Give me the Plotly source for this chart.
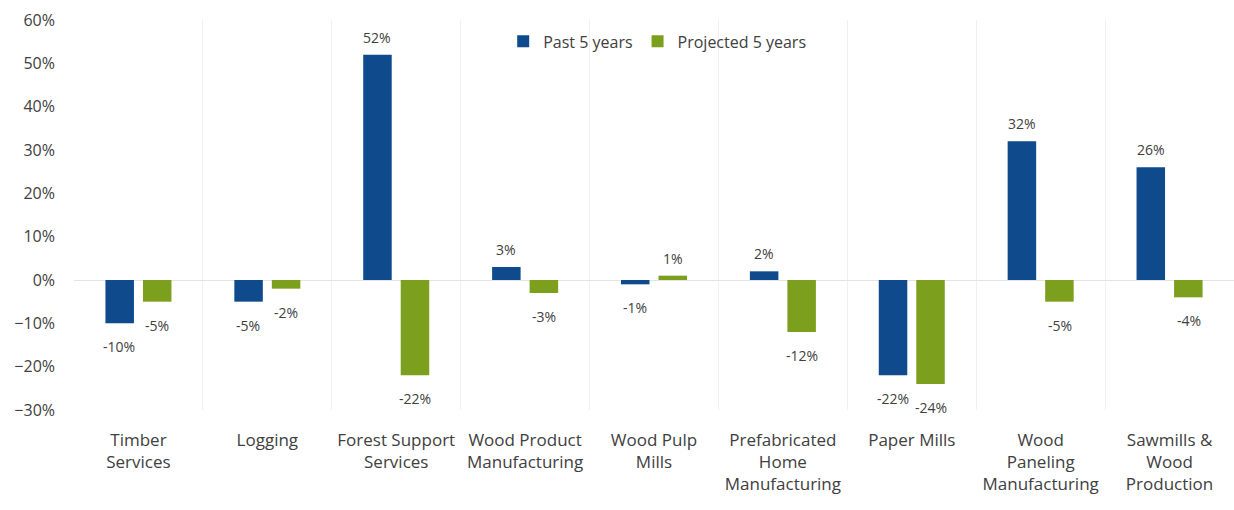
import plotly.graph_objects as go

# Industry categories (line breaks follow the printed axis labels)
categories = [
    "Timber<br>Services",
    "Logging",
    "Forest Support<br>Services",
    "Wood Product<br>Manufacturing",
    "Wood Pulp<br>Mills",
    "Prefabricated<br>Home<br>Manufacturing",
    "Paper Mills",
    "Wood<br>Paneling<br>Manufacturing",
    "Sawmills &<br>Wood<br>Production",
]

# Growth rates as fractions
past_5_years = [-0.10, -0.05, 0.52, 0.03, -0.01, 0.02, -0.22, 0.32, 0.26]
projected_5_years = [-0.05, -0.02, -0.22, -0.03, 0.01, -0.12, -0.24, -0.05, -0.04]

y_ticks = [-0.3, -0.2, -0.1, 0.0, 0.1, 0.2, 0.3, 0.4, 0.5, 0.6]

PAST_COLOR = "#0E4A8C"
PROJ_COLOR = "#7D9F1E"
TEXT_COLOR = "#404040"
FONT = "Open Sans, Noto Sans, sans-serif"

fig = go.Figure()
fig.add_trace(go.Bar(
    name="Past 5 years", x=categories, y=past_5_years,
    marker=dict(color=PAST_COLOR, line=dict(width=0)),
))
fig.add_trace(go.Bar(
    name="Projected 5 years", x=categories, y=projected_5_years,
    marker=dict(color=PROJ_COLOR, line=dict(width=0)),
))

# Value labels just beyond the end of each bar
annotations = []
for series, shift in ((past_5_years, -19), (projected_5_years, 19)):
    for cat, val in zip(categories, series):
        positive = val >= 0
        annotations.append(dict(
            x=cat, y=val, xref="x", yref="y",
            text=f"{round(val * 100):d}%",
            showarrow=False,
            xshift=shift,
            yshift=6 if positive else -12,
            yanchor="bottom" if positive else "top",
            font=dict(size=14, color=TEXT_COLOR, family=FONT),
        ))

fig.update_layout(
    width=1234, height=510,
    margin=dict(l=74, r=0, t=20, b=100),
    paper_bgcolor="white", plot_bgcolor="white",
    barmode="group", bargap=0.418, bargroupgap=0.24,
    font=dict(family=FONT, size=16, color=TEXT_COLOR),
    showlegend=True,
    legend=dict(
        orientation="h", x=0.37, y=0.945, xanchor="left", yanchor="middle",
        font=dict(size=16, color=TEXT_COLOR), bgcolor="rgba(0,0,0,0)",
        itemwidth=30, traceorder="normal",
    ),
    annotations=annotations,
)

fig.update_xaxes(
    tickson="boundaries", showgrid=True, gridcolor="#F0F0F0", gridwidth=1,
    showline=False, ticks="", ticklabelstandoff=18,
    tickfont=dict(size=17, color=TEXT_COLOR),
)
fig.update_yaxes(
    range=[-0.3, 0.6], tickvals=y_ticks, tickformat=".0%",
    showgrid=False, zeroline=True, zerolinecolor="#E4E4E4", zerolinewidth=1,
    showline=False, ticks="", ticklabelstandoff=18,
    tickfont=dict(size=16, color=TEXT_COLOR),
)

fig.write_html("out.html")
